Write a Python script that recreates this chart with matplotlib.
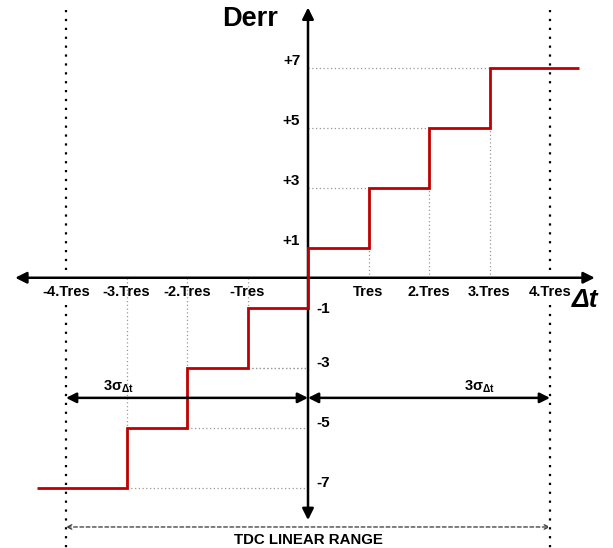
import numpy as np
import matplotlib.pyplot as plt

plt.rcParams['font.family'] = ['Liberation Sans', 'DejaVu Sans']
plt.rcParams['mathtext.fontset'] = 'custom'
plt.rcParams['mathtext.rm'] = 'Liberation Sans'
plt.rcParams['mathtext.it'] = 'Liberation Sans:italic'
plt.rcParams['mathtext.bf'] = 'Liberation Sans:bold'
plt.rcParams['mathtext.default'] = 'regular'

# quantizer transfer: Derr code vs time difference (in units of Tres)
edges = [-4.48, -3, -2, -1, 0, 1, 2, 3, 4.48]
codes = [-7, -5, -3, -1, 1, 3, 5, 7]

xticks = [-4, -3, -2, -1, 1, 2, 3, 4]
xtick_labels = ['-4.Tres', '-3.Tres', '-2.Tres', '-Tres', 'Tres', '2.Tres', '3.Tres', '4.Tres']
ylevels = [7, 5, 3, 1, -1, -3, -5, -7]
ylabels = ['+7', '+5', '+3', '+1', '-1', '-3', '-5', '-7']

linear_range = 4      # +-4 Tres
sigma_level = -4      # height of the 3 sigma arrows

fig = plt.figure(figsize=(6.13, 5.48), dpi=100)
ax = fig.add_axes([0, 0, 1, 1])
ax.set_xlim(-308 / 60.5, 305 / 60.5)
ax.set_ylim(-270 / 30, 277.5 / 30)
ax.axis('off')

# axes with arrow heads
ax.annotate('', xy=(4.74, 0), xytext=(-4.84, 0),
            arrowprops=dict(arrowstyle='<|-|>', color='black', lw=1.8, mutation_scale=17,
                            shrinkA=0, shrinkB=0))
ax.annotate('', xy=(0, 9.0), xytext=(0, -8.07),
            arrowprops=dict(arrowstyle='<|-|>', color='black', lw=1.8, mutation_scale=17,
                            shrinkA=0, shrinkB=0))

# dotted guide lines from each step corner to the axes
guide = dict(ls=(0, (1, 2)), color='#999999', lw=0.9)
for i, c in enumerate(codes):
    if c > 0:
        x_corner = edges[i]
        if x_corner > 0:
            ax.plot([x_corner, x_corner], [0, c], **guide)
            ax.plot([0, x_corner], [c, c], **guide)
    else:
        x_corner = edges[i + 1]
        if x_corner < 0:
            ax.plot([x_corner, x_corner], [0, c], **guide)
            ax.plot([x_corner, 0], [c, c], **guide)
ax.plot([-1, 0], [-3, -3], **guide)

# linear range limits
for xr in (-linear_range, linear_range):
    ax.plot([xr, xr], [8.93, 0.05], ls=(0, (1, 3)), color='black', lw=1.6)
    ax.plot([xr, xr], [-0.9, -9.0], ls=(0, (1, 3)), color='black', lw=1.6)

# staircase
ax.stairs(codes, edges, baseline=None, color='#c00000', lw=2, zorder=3)

# tick labels
for x, lab in zip(xticks, xtick_labels):
    ax.text(x, -0.47, lab, ha='center', va='center', fontsize=10.5, fontweight='bold')
for y, lab in zip(ylevels, ylabels):
    if y > 0:
        ax.text(-0.13, y + 0.22, lab, ha='right', va='center', fontsize=11, fontweight='bold')
    else:
        ax.text(0.14, y - 0.05 if y == -1 else y + 0.15, lab, ha='left', va='center',
                fontsize=11, fontweight='bold')

ax.text(-0.96, 8.63, 'Derr', ha='center', va='center', fontsize=19.5, fontweight='bold')
ax.text(4.58, -0.75, 'Δt', ha='center', va='center',
        fontsize=19, fontweight='bold', fontstyle='italic')

# 3 sigma arrows
for x0, x1, xl in ((-linear_range, 0, -3.14), (0, linear_range, 2.84)):
    ax.annotate('', xy=(x1, sigma_level), xytext=(x0, sigma_level),
                arrowprops=dict(arrowstyle='<|-|>', color='black', lw=1.8, mutation_scale=15,
                                shrinkA=0, shrinkB=0))
    ax.text(xl, sigma_level + 0.38, r'3σ$_{\Delta t}$', ha='center', va='center',
            fontsize=10.5, fontweight='bold')

# TDC linear range
ax.annotate('', xy=(linear_range, -8.3), xytext=(-linear_range, -8.3),
            arrowprops=dict(arrowstyle='<->', color='#333333', lw=0.9, ls=(0, (3, 2)),
                            mutation_scale=8, shrinkA=0, shrinkB=0))
ax.text(0, -8.75, 'TDC LINEAR RANGE', ha='center', va='center', fontsize=10.8, fontweight='bold')

fig.savefig('out.png', dpi=100)
